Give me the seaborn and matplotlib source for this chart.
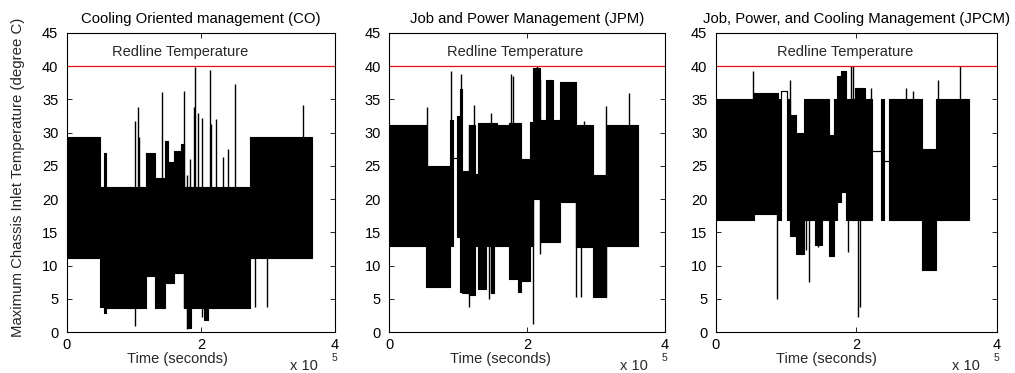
import numpy as np
import pandas as pd
import matplotlib
matplotlib.use("Agg")
import matplotlib.pyplot as plt
import seaborn as sns

# ---------------- data (time in units of 1e5 s, temperature in deg C) ----------------
titles = ["Cooling Oriented management (CO)",
          "Job and Power Management (JPM)",
          "Job, Power, and Cooling Management (JPCM)"]

# CO: band segments (start time, low envelope, high envelope); last time = end of trace
co_t    = [0.00, 0.50, 0.55, 0.58, 1.18, 1.32, 1.47, 1.51, 1.60, 1.71, 1.75, 1.79, 1.86, 2.04, 2.10, 2.73, 3.66]
co_low  = [11.2, 3.8, 2.8, 3.6, 8.5, 3.6, 7.3, 7.3, 8.9, 8.9, 3.6, 0.6, 3.6, 1.8, 3.6, 11.2]
co_high = [29.3, 21.8, 27.0, 21.8, 26.9, 23.2, 28.7, 25.6, 27.3, 28.3, 21.8, 21.8, 21.8, 21.8, 21.8, 29.3]
co_spk_t  = [1.02, 1.06, 1.08, 1.42, 1.75, 1.80, 1.84, 1.90, 1.91, 1.96, 2.01, 2.13, 2.15, 2.23, 2.33, 2.40, 2.51, 2.81, 2.99, 3.52]
co_spk_lo = [0.9, 3.6, 3.6, 3.6, 3.6, 0.5, 0.8, 3.6, 3.6, 3.6, 2.3, 3.6, 3.6, 3.6, 3.6, 3.6, 3.6, 3.8, 3.8, 11.2]
co_spk_hi = [31.7, 33.8, 29.3, 36.1, 36.3, 23.7, 26.0, 33.9, 39.9, 33.0, 32.2, 39.4, 31.3, 32.1, 26.4, 27.5, 37.3, 21.8, 21.8, 34.2]

# JPM
jpm_t    = [0.00, 0.53, 0.88, 0.93, 0.98, 1.02, 1.05, 1.15, 1.24, 1.29, 1.41, 1.47, 1.52, 1.56, 1.73, 1.87, 1.91, 2.04, 2.09, 2.19, 2.28, 2.38, 2.48, 2.71, 2.96, 3.15, 3.61]
jpm_low  = [12.9, 6.8, 12.9, 26.2, 14.3, 6.0, 5.9, 5.6, 13.0, 6.5, 13.0, 5.8, 13.0, 12.9, 8.0, 6.0, 7.7, 13.0, 20.0, 13.6, 13.6, 13.6, 19.6, 12.8, 5.3, 12.9]
jpm_high = [31.2, 25.0, 31.9, 26.2, 32.5, 36.5, 24.2, 31.2, 23.8, 31.4, 31.4, 31.4, 31.4, 31.2, 31.4, 31.4, 26.0, 31.6, 39.8, 31.9, 37.9, 31.9, 37.6, 31.2, 23.6, 31.1]
jpm_spk_t  = [0.54, 0.90, 1.04, 1.16, 1.23, 1.44, 1.47, 1.77, 1.80, 2.08, 2.14, 2.19, 2.71, 2.78, 2.83, 3.15, 3.48]
jpm_spk_lo = [12.9, 12.9, 6.0, 3.8, 5.6, 5.0, 5.8, 8.0, 8.0, 1.2, 20.0, 11.8, 5.3, 5.3, 12.8, 5.3, 12.9]
jpm_spk_hi = [33.8, 39.3, 38.8, 31.2, 34.2, 31.4, 33.0, 38.9, 38.5, 31.6, 40.0, 38.0, 31.2, 31.2, 31.8, 34.0, 35.9]

# JPCM
jpcm_t    = [0.00, 0.54, 0.89, 0.93, 1.01, 1.06, 1.15, 1.25, 1.41, 1.51, 1.61, 1.69, 1.73, 1.79, 1.86, 1.98, 2.13, 2.22, 2.35, 2.39, 2.47, 2.94, 3.13, 3.60]
jpcm_low  = [16.8, 17.7, 16.8, 36.2, 16.8, 14.4, 11.7, 16.8, 13.1, 16.8, 11.5, 16.8, 19.6, 21.0, 16.8, 16.8, 16.8, 27.3, 16.8, 25.8, 16.8, 9.3, 16.8]
jpcm_high = [35.1, 35.9, 35.1, 36.2, 35.1, 32.7, 30.0, 35.1, 35.1, 35.1, 29.6, 35.1, 38.5, 39.3, 35.1, 36.7, 35.1, 27.3, 35.1, 25.8, 35.1, 27.5, 35.1]
jpcm_spk_t  = [0.53, 0.87, 1.06, 1.28, 1.33, 1.45, 1.88, 1.93, 1.96, 2.02, 2.06, 2.21, 2.71, 2.81, 3.17, 3.48]
jpcm_spk_lo = [16.8, 4.9, 16.8, 12.3, 7.6, 12.8, 12.0, 16.8, 16.8, 2.2, 3.8, 16.8, 16.8, 16.8, 16.8, 16.8]
jpcm_spk_hi = [39.3, 35.9, 38.0, 35.1, 35.1, 35.1, 35.1, 40.0, 40.0, 36.7, 36.7, 36.7, 36.7, 36.2, 38.0, 40.0]

redline = 40
redline_label_x = [1.69, 1.82, 1.84]
xticks = [0, 2, 4]
yticks = [0, 5, 10, 15, 20, 25, 30, 35, 40, 45]

panels = [
    (co_t, co_low, co_high, co_spk_t, co_spk_lo, co_spk_hi),
    (jpm_t, jpm_low, jpm_high, jpm_spk_t, jpm_spk_lo, jpm_spk_hi),
    (jpcm_t, jpcm_low, jpcm_high, jpcm_spk_t, jpcm_spk_lo, jpcm_spk_hi),
]

# ---------------- style ----------------
sns.set_theme(style="ticks")
plt.rcParams["font.family"] = ["Liberation Sans", "DejaVu Sans"]
plt.rcParams["font.size"] = 10
plt.rcParams["xtick.direction"] = "in"
plt.rcParams["ytick.direction"] = "in"

W, H = 1015, 373
fig = plt.figure(figsize=(W / 100, H / 100), dpi=100)
px_boxes = [(66.7, 335.0), (389.3, 665.0), (715.7, 996.7)]
top_px, bot_px = 33.0, 332.0
ax_h_px = bot_px - top_px

for i, ((t, lo, hi, st, slo, shi), (x0, x1)) in enumerate(zip(panels, px_boxes)):
    ax = fig.add_axes([x0 / W, (H - bot_px) / H, (x1 - x0) / W, ax_h_px / H])
    tt = np.asarray(t)
    lo_s = np.append(lo, lo[-1])
    hi_s = np.append(hi, hi[-1])
    df = pd.DataFrame({"t": tt, "low": lo_s, "high": hi_s})
    ax.fill_between(df["t"], df["low"], df["high"], step="post", color="black", lw=0)
    sns.lineplot(data=df, x="t", y="low", ax=ax, color="black", lw=0.8,
                 drawstyle="steps-post", estimator=None, sort=False)
    sns.lineplot(data=df, x="t", y="high", ax=ax, color="black", lw=0.8,
                 drawstyle="steps-post", estimator=None, sort=False)
    ax.vlines([tt[0], tt[-1]], [lo[0], lo[-1]], [hi[0], hi[-1]], color="black", lw=0.8)
    ax.vlines(st, slo, shi, color="black", lw=1.0)
    ax.axhline(redline, color="#e8100c", lw=0.9)
    ax.text(redline_label_x[i], 42.15, "Redline Temperature", ha="center", va="center", fontsize=10.5)

    ax.set_xlim(0, 4)
    ax.set_ylim(0, 45)
    ax.set_xticks(xticks)
    ax.set_xticklabels([str(v) for v in xticks])
    ax.set_yticks(yticks)
    ax.set_yticklabels([str(v) for v in yticks])
    ax.tick_params(axis="both", which="both", direction="in", length=3.5, width=0.6,
                   top=True, right=True, labelsize=10.5, colors="black")
    ax.tick_params(axis="x", pad=4)
    ax.tick_params(axis="y", pad=6)
    for s in ax.spines.values():
        s.set_visible(True)
        s.set_linewidth(0.8)
        s.set_color("black")
    ax.set_xlabel("")
    ax.set_ylabel("")
    ax.set_title(titles[i], fontsize=10.7, pad=7, color="black")
    fx = lambda px: (px - x0) / (x1 - x0)
    fy = lambda py: (bot_px - py) / ax_h_px
    ax.text(fx(x0 + 111), fy(359), "Time (seconds)",
            transform=ax.transAxes, ha="center", va="center", fontsize=10.5)
    ax.text(fx(x1 - 45), fy(366), "x 10", transform=ax.transAxes, ha="left", va="center", fontsize=10.5)
    ax.text(fx(x1 - 3), fy(358), "5", transform=ax.transAxes, ha="left", va="center", fontsize=7.5)

fig.text(18 / W, 1 - 177.5 / H, "Maximum Chassis Inlet Temperature (degree C)", rotation=90,
         ha="center", va="center", fontsize=10.8)

fig.savefig("out.png", dpi=100)
